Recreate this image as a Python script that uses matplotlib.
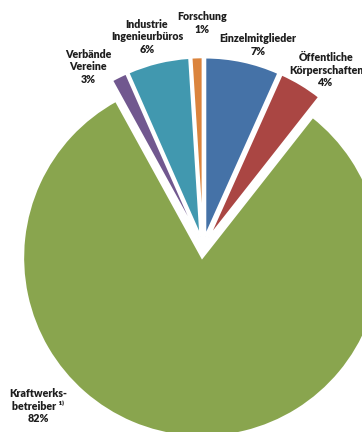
import matplotlib
matplotlib.use("Agg")
import matplotlib.pyplot as plt

# Data (clockwise from 12 o'clock)
categories = ["Einzelmitglieder", "Öffentliche Körperschaften", "Kraftwerksbetreiber",
              "Verbände Vereine", "Industrie Ingenieurbüros", "Forschung"]
values = [6.7, 3.9, 81.4, 1.4, 5.6, 1.0]
label_texts = ["Einzelmitglieder\n7%",
               "Öffentliche\nKörperschaften\n4%",
               "Kraftwerks-\nbetreiber ¹⁾\n82%",
               "Verbände\nVereine\n3%",
               "Industrie\nIngenieurbüros\n6%",
               "Forschung\n1%"]
colors = ["#4572A7", "#AA4643", "#89A54E", "#71588F", "#4198AF", "#DB843D"]

W, H = 362, 432
fig = plt.figure(figsize=(W / 100, H / 100), dpi=100)
ax = fig.add_axes([0, 0, 1, 1])

radius = 179
cx, cy = 203, H - 247
ax.pie(values, explode=[0.06 * radius] * len(values), startangle=90,
       counterclock=False, center=(cx, cy), radius=radius, colors=colors,
       wedgeprops=dict(edgecolor="white", linewidth=1.5))
ax.set_xlim(0, W)
ax.set_ylim(0, H)
ax.set_aspect("equal")
ax.axis("off")

# label anchor positions (pixel coords from top-left; centre of text block)
label_pos = [(258, 45), (326, 70), (38, 406), (88, 67), (147, 37), (202, 23)]
for txt, (x, y) in zip(label_texts, label_pos):
    ax.text(x, H - y, txt, ha="center", va="center", fontsize=7.7,
            fontweight="heavy", color="#1e1e1e", family=["Lato", "DejaVu Sans"],
            linespacing=1.22)

fig.savefig("out.png", dpi=100)
